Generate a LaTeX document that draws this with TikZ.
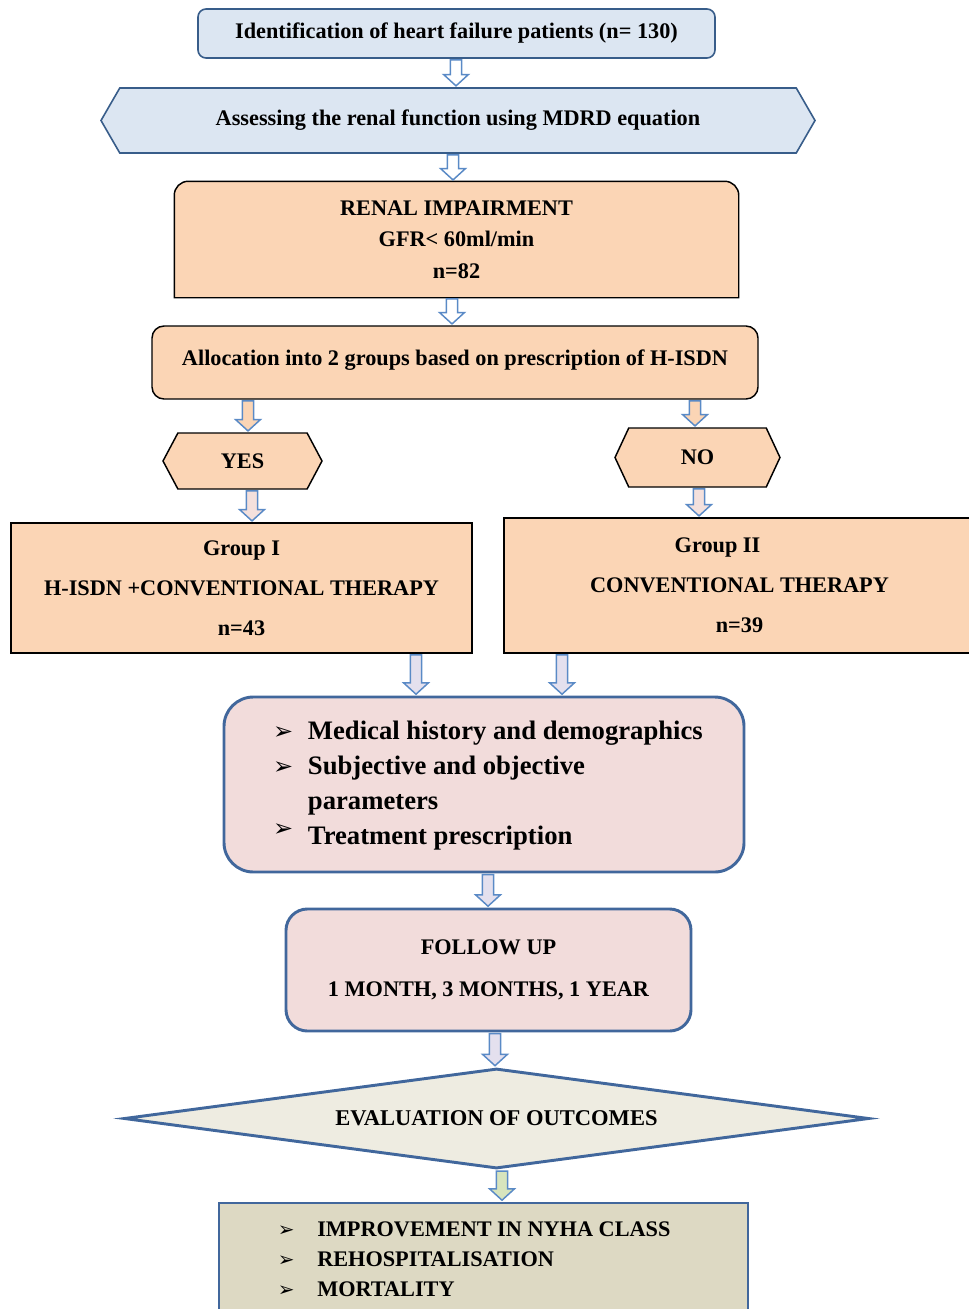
\documentclass[tikz,border=0pt]{standalone}
\usepackage{fontspec}
\setmainfont{Liberation Serif}
\newfontfamily\dingfont{DejaVu Sans}
\usetikzlibrary{shapes.geometric,shapes.symbols,calc}
\pgfdeclarelayer{background}
\pgfsetlayers{background,main}
\definecolor{dblue}{HTML}{385D8A}
\definecolor{lblue}{HTML}{DCE6F2}
\definecolor{peach}{HTML}{FBD5B5}
\definecolor{pinkf}{HTML}{F2DCDB}
\definecolor{beige}{HTML}{EEECE1}
\definecolor{khaki}{HTML}{DDD9C3}
\definecolor{tblue}{HTML}{41679C}
\definecolor{arrblue}{HTML}{5A8AC6}
\definecolor{pinkarr}{HTML}{F4E0DC}
\definecolor{lavender}{HTML}{E4E0EE}
\definecolor{greenarr}{HTML}{D7E4BD}
\newcommand{\pxl}[1]{#1*0.75pt}
\newcommand{\bul}{{\dingfont\char"27A2}}
\newcommand{\barr}[4]{%
  \filldraw[arrline, fill=#4] let \p1=(#2), \p2=(#3), \p3=(#1,0) in
   (\x3-4.2pt,\y1-0.8pt) -- (\x3+4.2pt,\y1-0.8pt) -- (\x3+4.2pt,\y2+9.5pt) -- (\x3+9.3pt,\y2+9.5pt)
   -- (\x3,\y2+1pt) -- (\x3-9.3pt,\y2+9.5pt) -- (\x3-4.2pt,\y2+9.5pt) -- cycle;}
\begin{document}
\begin{tikzpicture}[x=0.75pt,y=0.75pt,
  arrline/.style={draw=arrblue, line width=1.1pt},
  bluebox/.style={draw=dblue, fill=lblue, line width=1.2pt, font=\fontsize{16.7}{19}\selectfont\bfseries},
  peachbox/.style={draw=black, fill=peach, line width=1.1pt, font=\fontsize{16.7}{19}\selectfont\bfseries},
  thickbox/.style={draw=tblue, line width=2.2pt},
  hexa/.style={signal, signal to=west and east, signal pointer angle=#1}
]
\useasboundingbox (0,0) rectangle (969,-1309);
\clip (0,0) rectangle (969,-1309);

% top
\node[bluebox, rounded corners=6pt, minimum width=\pxl{517}, minimum height=\pxl{49}] (idn) at (456.5,-33.5)
  {Identification of heart failure patients (n= 130)};
\node[bluebox, hexa=120, minimum width=\pxl{714}, minimum height=\pxl{65}, inner xsep=0pt] (mdrd) at (458,-120.5)
  {Assessing the renal function using MDRD equation};

% renal
\node[font=\fontsize{16.7}{23.6}\selectfont\bfseries, align=center, minimum width=\pxl{563}, minimum height=\pxl{115}, outer sep=0.55pt] (ren) at (456.5,-239.5)
  {RENAL IMPAIRMENT\\GFR< 60ml/min\\n=82};
\begin{pgfonlayer}{background}
\filldraw[draw=black, fill=peach, line width=1.1pt]
  (ren.south west) -- ([yshift=-10.5pt]ren.north west) arc[start angle=180,end angle=90,radius=10.5pt]
  -- ([xshift=-10.5pt]ren.north east) arc[start angle=90,end angle=0,radius=10.5pt]
  -- (ren.south east) -- cycle;
\end{pgfonlayer}

\node[peachbox, rounded corners=9pt, minimum width=\pxl{606}, minimum height=\pxl{73}] (alloc) at (455,-362.5)
  {\raisebox{7.5pt}{Allocation into 2 groups based on prescription of H-ISDN}};

\node[peachbox, hexa=124, minimum width=\pxl{159}, minimum height=\pxl{56}] (yes) at (242.5,-461) {YES};
\node[peachbox, hexa=130, minimum width=\pxl{165}, minimum height=\pxl{59}] (no) at (697.5,-457.5) {NO};

\node[peachbox, font=\fontsize{16.7}{30}\selectfont\bfseries, align=center, minimum width=\pxl{461}, minimum height=\pxl{130}] (g1) at (241.5,-588)
  {Group I\\H-ISDN +CONVENTIONAL THERAPY\\n=43};
\node[peachbox, font=\fontsize{16.7}{30}\selectfont\bfseries, align=center, minimum width=\pxl{471}, minimum height=\pxl{135}] (g2) at (739.5,-585.5)
  {Group II\hspace*{33pt}\\CONVENTIONAL THERAPY\\n=39};

\node[thickbox, fill=pinkf, rounded corners=22pt, minimum width=\pxl{520}, minimum height=\pxl{175}, font=\fontsize{20}{26.25}\selectfont\bfseries] (med) at (484,-784.5)
  {\hspace*{6pt}\begin{tabular}{@{}l@{\hspace{11pt}}l@{}}
   {\fontsize{18}{16}\selectfont\bul} & Medical history and demographics\\
   {\fontsize{18}{16}\selectfont\bul} & Subjective and objective\\
    & parameters\\
   \raisebox{6pt}{\fontsize{18}{16}\selectfont\bul} & Treatment prescription
   \end{tabular}};

\node[thickbox, fill=pinkf, rounded corners=16pt, minimum width=\pxl{405}, minimum height=\pxl{122}, align=center, font=\fontsize{16.7}{31}\selectfont\bfseries] (fu) at (488.5,-970)
  {FOLLOW UP\\1 MONTH, 3 MONTHS, 1 YEAR};

\node[diamond, thickbox, fill=beige, aspect=7.35, inner sep=0pt, minimum width=\pxl{745}, minimum height=\pxl{100}, font=\fontsize{16.9}{19}\selectfont\bfseries] (eval) at (496.5,-1118.5)
  {EVALUATION OF OUTCOMES};

\node[thickbox, fill=khaki, minimum width=\pxl{529}, minimum height=\pxl{114}, font=\fontsize{16.7}{22.5}\selectfont\bfseries] (out) at (483.5,-1260)
  {\begin{tabular}{@{}l@{\hspace{17pt}}l@{}}
   {\fontsize{15}{13}\selectfont\bul} & IMPROVEMENT IN NYHA CLASS\\
   {\fontsize{15}{13}\selectfont\bul} & REHOSPITALISATION\\
   {\fontsize{15}{13}\selectfont\bul} & MORTALITY
   \end{tabular}\hspace*{14pt}};

% arrows
\barr{456}{idn.south}{mdrd.north}{white}
\barr{453}{mdrd.south}{ren.north}{white}
\barr{452}{ren.south}{alloc.north}{white}
\barr{248}{alloc.south}{yes.north}{peach}
\barr{695}{alloc.south}{no.north}{peach}
\barr{252}{yes.south}{g1.north}{pinkarr}
\barr{699}{no.south}{g2.north}{pinkarr}
\barr{416}{g1.south}{med.north}{lavender}
\barr{562}{g2.south}{med.north}{lavender}
\barr{488}{med.south}{fu.north}{lavender}
\barr{495}{fu.south}{eval.north}{lavender}
\barr{502}{eval.south}{out.north}{greenarr}
\end{tikzpicture}
\end{document}
